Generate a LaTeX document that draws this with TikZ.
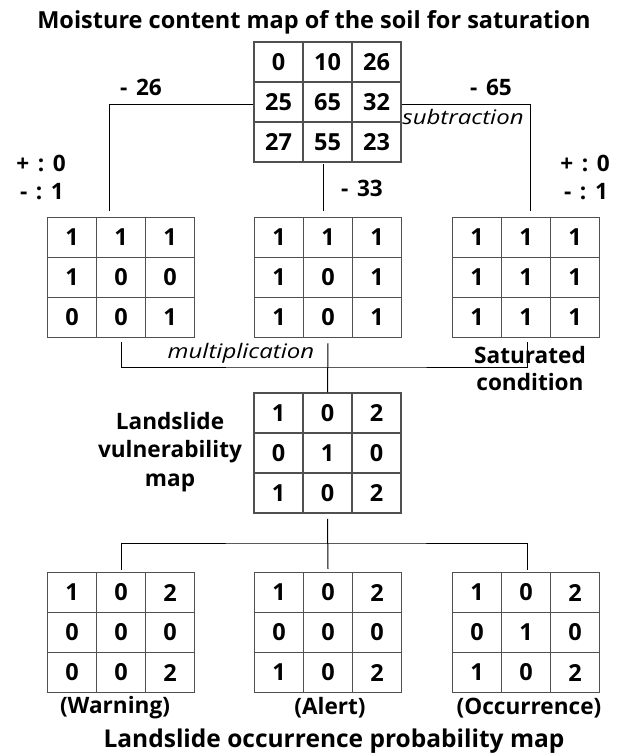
\documentclass[tikz,border=0pt]{standalone}
\usepackage{fontspec}
\setmainfont{Open Sans}
\usetikzlibrary{matrix}
\definecolor{gridcol}{RGB}{80,80,80}
\newcommand{\wsp}{\hspace{0.38em}}
\begin{document}
\begin{tikzpicture}[x=1pt,y=-1pt,
  grid/.style={matrix of nodes, inner sep=0pt, column sep=-1.1pt, row sep=-1.1pt,
    nodes={draw=gridcol, line width=1.1pt, minimum width=49pt, minimum height=40pt,
      anchor=center, inner sep=0pt, font=\fontsize{23.5}{27}\selectfont\bfseries}},
  conn/.style={draw=black, line width=1pt},
  lab/.style={font=\fontsize{22.6}{28.5}\selectfont\bfseries, inner sep=0pt, align=center},
  ital/.style={font=\fontsize{20}{24}\selectfont\itshape, inner sep=0pt},
  ttl/.style={font=\fontsize{23.5}{28}\selectfont\bfseries, inner sep=0pt}
]
\useasboundingbox[fill=white] (0,0) rectangle (619,756);

% matrices
\matrix (top) [grid] at (327.5,102) {0 & 10 & 26 \\ 25 & 65 & 32 \\ 27 & 55 & 23 \\};
\matrix (ml) [grid] at (121,277.5) {1 & 1 & 1 \\ 1 & 0 & 0 \\ 0 & 0 & 1 \\};
\matrix (mm) [grid] at (328,277.5) {1 & 1 & 1 \\ 1 & 0 & 1 \\ 1 & 0 & 1 \\};
\matrix (mr) [grid] at (526,277.5) {1 & 1 & 1 \\ 1 & 1 & 1 \\ 1 & 1 & 1 \\};
\matrix (vu) [grid] at (327.5,453) {1 & 0 & 2 \\ 0 & 1 & 0 \\ 1 & 0 & 2 \\};
\matrix (bl) [grid] at (121,632.5) {1 & 0 & 2 \\ 0 & 0 & 0 \\ 0 & 0 & 2 \\};
\matrix (bm) [grid] at (328,632.5) {1 & 0 & 2 \\ 0 & 0 & 0 \\ 1 & 0 & 2 \\};
\matrix (br) [grid] at (526,632.5) {1 & 0 & 2 \\ 0 & 1 & 0 \\ 1 & 0 & 2 \\};

% connector end points
\coordinate (cl) at (109,211);
\coordinate (cm) at (323,211);
\coordinate (cr) at (530,211);
\coordinate (bkl) at (121,342);
\coordinate (bkr) at (527,342);
\coordinate (bkj) at (328,367);
\coordinate (dj) at (327.5,543);
\coordinate (dl) at (121,570);
\coordinate (dr) at (527,570);

% subtraction connectors
\draw[conn] ([yshift=-2pt]top.west) -| (cl);
\draw[conn] ([yshift=-2pt]top.east) -| (cr);
\draw[conn] ([yshift=-1pt]top.south -| cm) -- (cm);

% multiplication connectors
\draw[conn] (bkl) |- (bkj) -| (bkr);
\draw[conn] ([yshift=-5pt]mm.south) -- (vu.north);

% to occurrence maps
\draw[conn] ([yshift=-5pt]vu.south) -- ([yshift=3pt]bm.north);
\draw[conn] (dl) |- (dj) -| (dr);

% texts
\node[ttl] (t1) at (314,22) {Moisture content map of the soil for saturation};
\node[lab] (s26) at (141,87) {-\wsp26};
\node[lab] (s65) at (491,87) {-\wsp65};
\node[lab] (s33) at (362,188) {-\wsp33};
\node[ital] (sub) at (463,117) {\scalebox{1.2}[1]{subtraction}};
\node[lab] (pl1) at (41,163) {+\wsp:\wsp0};
\node[lab] (mi1) at (42,192) {-\wsp:\wsp1};
\node[lab] (pl2) at (585,163) {+\wsp:\wsp0};
\node[lab] (mi2) at (586,192) {-\wsp:\wsp1};
\node[ital] (mul) at (241,353) {\scalebox{1.2}[1]{multiplication}};
\node[lab, align=center] (sat) at (530,368.5) {Saturated\\[-1.5pt]condition};
\node[lab] (lvm) at (170,452) {Landslide\\vulnerability\\map};
\node[lab] (w) at (115,708) {(Warning)};
\node[lab] (a) at (330,708) {(Alert)};
\node[lab] (o) at (529,708) {(Occurrence)};
\node[ttl, font=\fontsize{24.5}{28}\selectfont\bfseries] (t2) at (334,741.5) {Landslide occurrence probability map};
\end{tikzpicture}
\end{document}
